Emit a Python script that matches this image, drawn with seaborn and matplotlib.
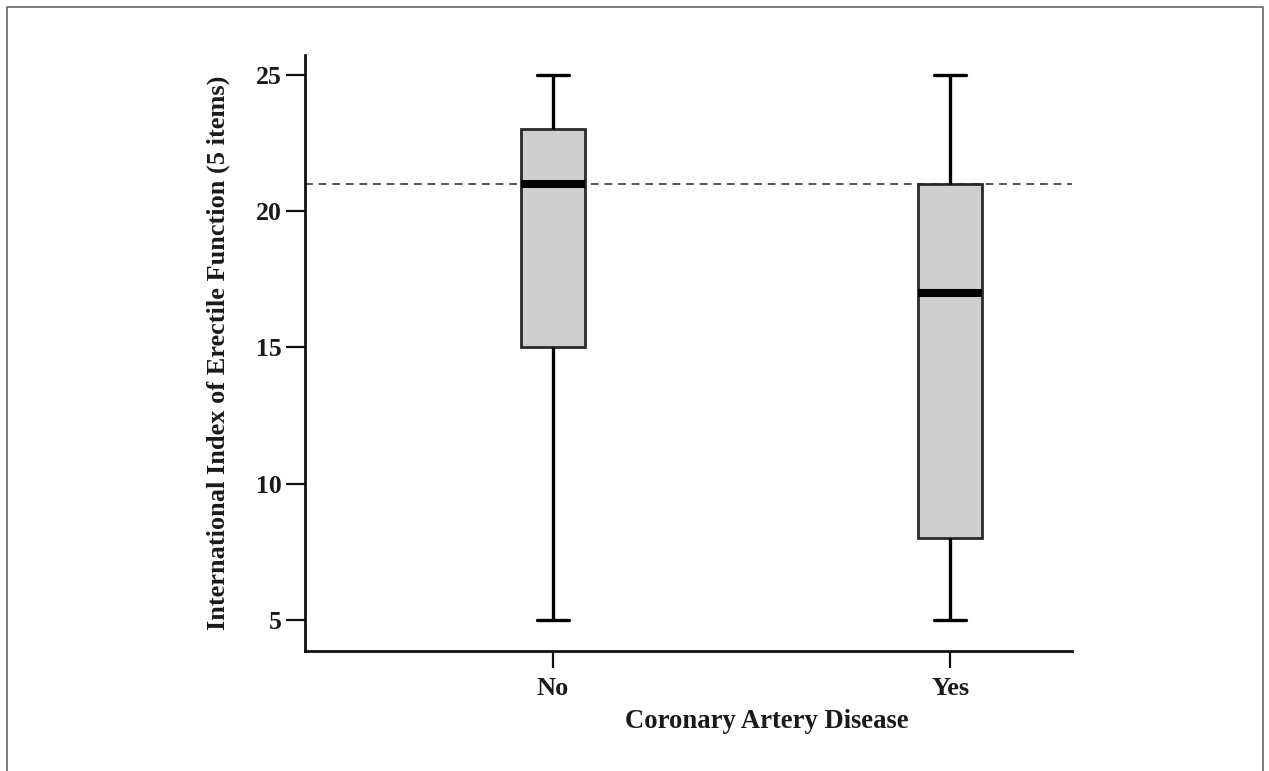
import matplotlib
matplotlib.use("Agg")
import matplotlib.pyplot as plt
import seaborn as sns
import pandas as pd
from matplotlib.lines import Line2D

# Data (five-number summaries: min, Q1, median, Q3, max)
categories = ["No", "Yes"]
no_values = [5, 15, 21, 23, 25]
yes_values = [5, 8, 17, 21, 25]
reference_line = 21
y_ticks = [5, 10, 15, 20, 25]

df = pd.DataFrame({
    "group": ["No"] * len(no_values) + ["Yes"] * len(yes_values),
    "score": no_values + yes_values,
})

sns.set_theme(style="white")
plt.rcParams["font.family"] = ["Liberation Serif", "DejaVu Serif"]
plt.rcParams["font.weight"] = "bold"

fig = plt.figure(figsize=(12.69, 7.71), dpi=100)
ax = fig.add_axes([305 / 1269, 1 - 651 / 771, (1072 - 305) / 1269, (651 - 55) / 771])

sns.boxplot(
    data=df, x="group", y="score", order=categories, ax=ax,
    whis=(0, 100), width=0.16, color="#cfcfcf", saturation=1,
    linecolor="#2a2a2a", linewidth=2.0,
    medianprops=dict(color="black", linewidth=5.8),
    whiskerprops=dict(color="black", linewidth=2.4),
    capprops=dict(color="black", linewidth=2.4),
    showfliers=False,
)

ax.axhline(reference_line, color="#555555", linewidth=1.4, linestyle=(0, (4, 3)), zorder=0.5)

ax.set_ylim(3.86, 25.73)
ax.set_xlim(-0.625, 1.307)
ax.set_yticks(y_ticks)
ax.set_yticklabels([str(t) for t in y_ticks])

for s in ["top", "right"]:
    ax.spines[s].set_visible(False)
for s in ["left", "bottom"]:
    ax.spines[s].set_linewidth(2.0)
    ax.spines[s].set_color("#111111")

ax.tick_params(axis="y", direction="out", length=14, width=1.6, color="#111111",
               labelsize=18.5, pad=3, left=True)
ax.tick_params(axis="x", direction="out", length=12.5, width=1.6, color="#111111",
               labelsize=19, pad=6, bottom=True)
for lab in ax.get_xticklabels() + ax.get_yticklabels():
    lab.set_fontweight("bold")
    lab.set_color("#1a1a1a")

ax.set_xlabel("Coronary Artery Disease", fontsize=19.2, fontweight="bold", color="#1a1a1a")
ax.set_ylabel("International Index of Erectile Function (5 items)", fontsize=19,
              fontweight="bold", color="#1a1a1a")
ax.xaxis.set_label_coords((767 - 305) / (1072 - 305), -(722 - 651) / (651 - 55), transform=ax.transAxes)
ax.yaxis.set_label_coords(-(305 - 218) / (1072 - 305), 0.5)
ax.xaxis.label.set_va("center")
ax.yaxis.label.set_va("center")

# Figure border (left, top, right)
W, H = 1269, 771
xl, xr, yt = 7 / W, 1263 / W, 1 - 7 / H
fig.add_artist(Line2D([xl, xl, xr, xr], [0, yt, yt, 0], transform=fig.transFigure,
                      color="#666666", linewidth=1.2))

fig.savefig("out.png", dpi=100)
